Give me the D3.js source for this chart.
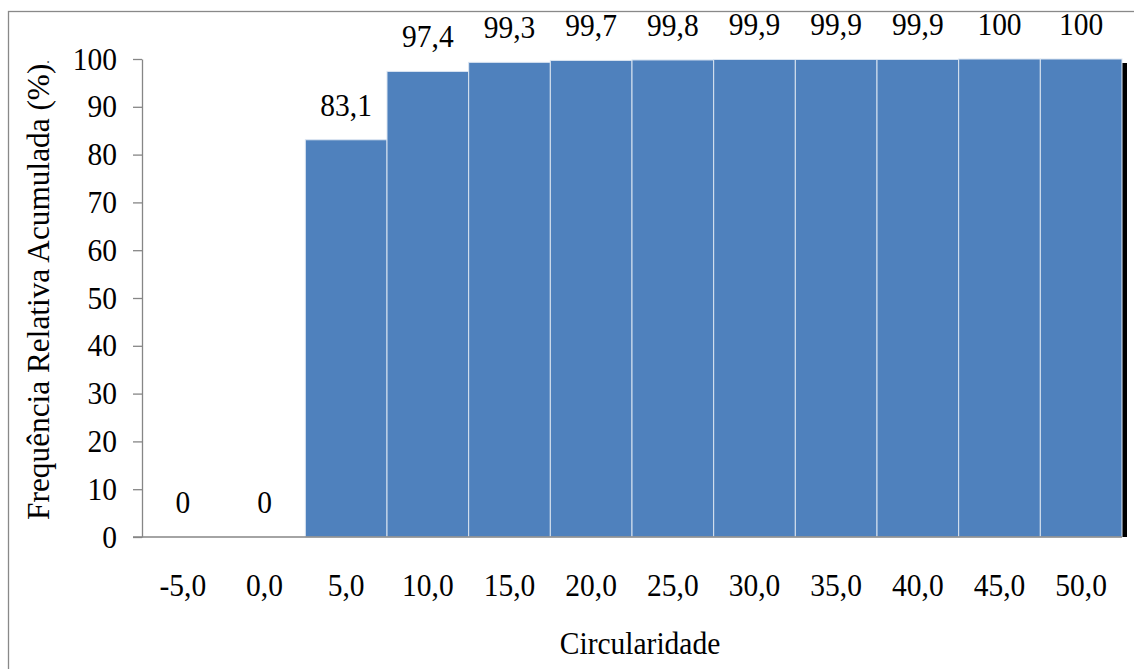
<!DOCTYPE html>
<html><head><meta charset="utf-8">
<script src="https://cdn.jsdelivr.net/npm/d3@7"></script>
<style>body{margin:0;background:#fff}svg{display:block}
svg text{font-family:"Liberation Serif","Times New Roman","DejaVu Serif",serif;}</style>
</head><body>
<svg id="c" width="1134" height="669"></svg>
<script>
const categories = ["-5,0","0,0","5,0","10,0","15,0","20,0","25,0","30,0","35,0","40,0","45,0","50,0"];
const values = [0,0,83.1,97.4,99.3,99.7,99.8,99.9,99.9,99.9,100,100];
const labels = ["0","0","83,1","97,4","99,3","99,7","99,8","99,9","99,9","99,9","100","100"];
const yTicks = [0,10,20,30,40,50,60,70,80,90,100];
const xTitle = "Circularidade";
const yTitle = "Frequência Relativa Acumulada (%)";

const svg = d3.select("#c");
const font = '"Liberation Serif","Times New Roman","DejaVu Serif",serif';
const FS = "29.5px", SY = 1.1;
const L = 142, R = 1122, T = 59, B = 537;

svg.append("rect").attr("x",8.5).attr("y",11.5).attr("width",1200).attr("height",700)
  .attr("fill","#fff").attr("stroke","#898989").attr("stroke-width",1.3);

const x = d3.scaleBand().domain(categories).range([L,R]).padding(0);
const y = d3.scaleLinear().domain([0,100]).range([B,T]);

svg.append("defs").append("clipPath").attr("id","pa")
  .append("rect").attr("x",L).attr("y",0).attr("width",R-L+10).attr("height",B);

// shadow
svg.append("g").attr("clip-path","url(#pa)").selectAll("rect").data(values).join("rect")
  .attr("x",(d,i)=>x(categories[i])+5).attr("y",d=>y(d)+4)
  .attr("width",x.bandwidth()).attr("height",d=>B-y(d))
  .attr("fill","#000");

svg.append("g").selectAll("rect").data(values).join("rect")
  .attr("x",(d,i)=>x(categories[i])).attr("y",d=>y(d))
  .attr("width",x.bandwidth()).attr("height",d=>B-y(d))
  .attr("fill","#4f81bd").attr("stroke","#dbe5f1").attr("stroke-width",d=>d>0?1:0);

// y axis
const ya = svg.append("g").attr("transform",`translate(${L},0)`)
  .call(d3.axisLeft(y).tickValues(yTicks).tickSize(9).tickPadding(16).tickSizeOuter(0));
ya.attr("font-family",null).attr("font-size",null);
ya.select(".domain").attr("stroke","#868686").attr("stroke-width",1.3);
ya.selectAll(".tick line").attr("stroke","#868686").attr("stroke-width",1.3);
ya.selectAll("text").attr("x",null).attr("dy","0.31em")
  .attr("transform",`translate(-25,0) scale(1,${SY})`)
  .style("font-family",font).style("font-size",FS).attr("fill","#000");

// x axis line
svg.append("line").attr("x1",L-9).attr("x2",R).attr("y1",B).attr("y2",B)
  .attr("stroke","#868686").attr("stroke-width",1.3);

// x tick labels
svg.append("g").selectAll("text").data(categories).join("text")
  .attr("transform",d=>`translate(${x(d)+x.bandwidth()/2},596) scale(1,${SY})`)
  .attr("text-anchor","middle").style("font-family",font).style("font-size",FS).text(d=>d);

// data labels
svg.append("g").selectAll("text").data(values).join("text")
  .attr("transform",(d,i)=>`translate(${x(categories[i])+x.bandwidth()/2},${y(d)-24}) scale(1,${SY})`)
  .attr("text-anchor","middle").style("font-family",font).style("font-size",FS)
  .text((d,i)=>labels[i]);

svg.append("text").attr("transform",`translate(640,654) scale(1,${SY})`).attr("text-anchor","middle")
  .style("font-family",font).style("font-size",FS).text(xTitle);

const yt = svg.append("text").attr("transform","translate(49,290) rotate(-90)")
  .attr("text-anchor","middle").style("font-family",font).style("font-size","31.3px");
yt.append("tspan").text(yTitle);
yt.append("tspan").style("font-size","14px").text(".");
</script>
</body></html>
